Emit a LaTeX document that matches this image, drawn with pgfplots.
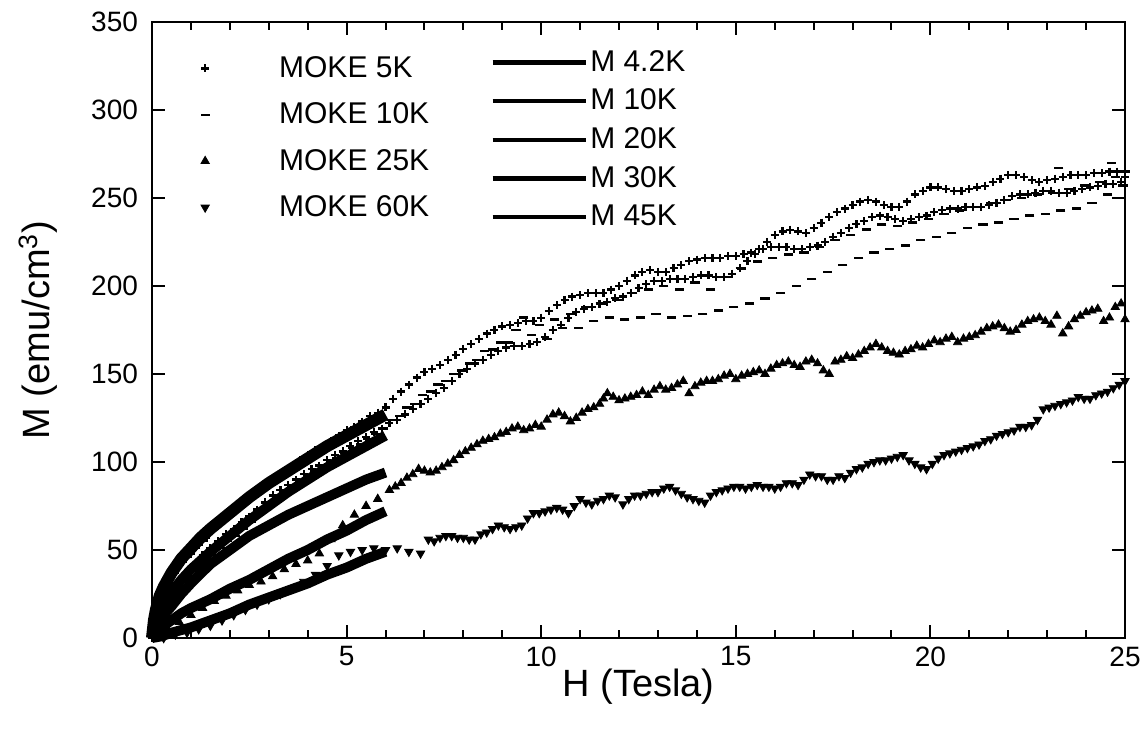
\documentclass[border=0pt]{standalone}
\usepackage{fontspec}
\setmainfont{Liberation Sans}
\usepackage{pgfplots}
\pgfplotsset{compat=1.18}

\begin{document}
\begin{tikzpicture}
\pgfplotsset{
  base/.style={
    scale only axis, width=486.5pt, height=308pt,
    xmin=0, xmax=25, ymin=0, ymax=350,
    clip=false,
  },
}
\begin{axis}[
  base, name=ax,
  axis line style={line width=1.4pt},
  xtick={0,5,...,25}, minor x tick num=4,
  ytick={0,50,...,350},
  xtick pos=both, ytick pos=both,
  xticklabel pos=lower, yticklabel pos=left,
  tick align=inside,
  major tick length=6.5pt, minor tick length=4pt,
  every tick/.style={black, line width=1pt},
  /pgf/number format/assume math mode=true,
  tick label style={font=\fontsize{14}{16}\selectfont},
  yticklabel style={xshift=-3.5pt},
  xticklabel style={yshift=-0.8pt},
  xlabel={H (Tesla)},
  ylabel={M (emu/cm\textsuperscript{3})},
  label style={font=\fontsize{19}{22}\selectfont},
  xlabel style={at={(axis description cs:0.5,-0.0795)}, anchor=center},
  ylabel style={at={(axis description cs:-0.117,0.5)}, anchor=center},
  legend style={at={(axis description cs:0.046,0.948)}, anchor=north west,
    draw=none, fill=none, inner sep=0pt, row sep=9.2pt,
    font=\fontsize{15}{17}\selectfont,
    nodes={inner sep=1pt}},
  legend cell align=left,
  legend image code/.code={\path[draw=none,fill=none] (-4pt,0pt) rectangle (36pt,0pt);
    \draw[#1] plot coordinates {(0pt,0pt)};},
]
% MOKE 5K, upper branch
\addplot[only marks, mark=+, mark size=2pt, line width=1.1pt, black] coordinates {
(0,0) (0.2,20) (0.4,30) (0.6,37) (0.8,43) (1.0,48) (1.2,53) (1.4,57) (1.6,62) (1.8,66)
(2.0,70) (2.2,74) (2.4,78) (2.6,82) (2.8,85) (3.0,89) (3.2,92) (3.4,95) (3.6,98) (3.8,101)
(4.0,104) (4.2,107) (4.4,109) (4.6,112) (4.8,115) (5.0,118) (5.2,120) (5.4,123) (5.6,126) (5.8,128)
(6.0,131) (6.2,136) (6.4,140) (6.6,144) (6.8,148) (7.0,151) (7.2,153) (7.4,155) (7.6,158) (7.8,161)
(8.0,164) (8.2,167) (8.4,170) (8.6,173) (8.8,175) (9.0,177) (9.2,178) (9.4,179) (9.6,180) (9.8,180)
(10.0,182) (10.2,186) (10.4,189) (10.6,192) (10.8,194) (11.0,195) (11.2,196) (11.4,196) (11.6,196) (11.8,198)
(12.0,200) (12.2,203) (12.4,206) (12.6,208) (12.8,209) (13.0,208) (13.2,208) (13.4,210) (13.6,212) (13.8,214)
(14.0,215) (14.2,216) (14.4,216) (14.6,216) (14.8,217) (15.0,217) (15.2,218) (15.4,219) (15.6,221) (15.8,225)
(16.0,229) (16.2,231) (16.4,232) (16.6,231) (16.8,230) (17.0,233) (17.2,236) (17.4,239) (17.6,242) (17.8,244)
(18.0,246) (18.2,248) (18.4,249) (18.6,248) (18.8,246) (19.0,245) (19.2,245) (19.4,248) (19.6,252) (19.8,254)
(20.0,256) (20.2,256) (20.4,255) (20.6,254) (20.8,254) (21.0,255) (21.2,256) (21.4,257) (21.6,259) (21.8,261)
(22.0,263) (22.2,263) (22.4,262) (22.6,260) (22.8,259) (23.0,260) (23.2,261) (23.4,262) (23.6,263) (23.8,263)
(24.0,263) (24.2,264) (24.4,264) (24.6,265) (24.8,265) (25.0,262)
};
% MOKE 5K, lower branch
\addplot[only marks, mark=+, mark size=2pt, line width=1.1pt, black, forget plot] coordinates {
(0.1,6) (0.3,15) (0.5,23) (0.7,30) (0.9,36) (1.1,42) (1.3,47) (1.5,51) (1.7,55) (1.9,59)
(2.1,62) (2.3,66) (2.5,69) (2.7,73) (2.9,77) (3.1,81) (3.3,84) (3.5,87) (3.7,90) (3.9,93)
(4.1,96) (4.3,98) (4.5,101) (4.7,104) (4.9,106) (5.1,109) (5.3,112) (5.5,114) (5.7,117) (5.9,119)
(6.1,122) (6.3,124) (6.5,127) (6.7,130) (6.9,133) (7.1,136) (7.3,139) (7.5,142) (7.7,146) (7.9,150)
(8.1,153) (8.3,156) (8.5,158) (8.7,161) (8.9,163) (9.1,165) (9.3,166) (9.5,166) (9.7,167) (9.9,168)
(10.1,171) (10.3,175) (10.5,178) (10.7,182) (10.9,185) (11.1,187) (11.3,188) (11.5,190) (11.7,191) (11.9,193)
(12.1,194) (12.3,196) (12.5,199) (12.7,201) (12.9,203) (13.1,203) (13.3,204) (13.5,204) (13.7,204) (13.9,205)
(14.1,206) (14.3,206) (14.5,205) (14.7,205) (14.9,207) (15.1,210) (15.3,214) (15.5,218) (15.7,221) (15.9,222)
(16.1,222) (16.3,222) (16.5,221) (16.7,221) (16.9,222) (17.1,223) (17.3,225) (17.5,228) (17.7,230) (17.9,233)
(18.1,235) (18.3,237) (18.5,239) (18.7,240) (18.9,239) (19.1,238) (19.3,237) (19.5,238) (19.7,239) (19.9,240)
(20.1,242) (20.3,243) (20.5,244) (20.7,244) (20.9,245) (21.1,245) (21.3,245) (21.5,246) (21.7,247) (21.9,249)
(22.1,251) (22.3,252) (22.5,252) (22.7,253) (22.9,254) (23.1,254) (23.3,253) (23.5,253) (23.7,254) (23.9,255)
(24.1,256) (24.3,257) (24.5,258) (24.7,258) (24.9,259)
};
% MOKE 10K
\addplot[only marks, mark=-, mark size=2.3pt, line width=1.2pt, black] coordinates {
(0.15,8) (0.35,16) (0.55,22) (0.75,28) (0.95,33) (1.15,38) (1.35,42) (1.55,47) (1.75,51) (1.95,55)
(2.15,58) (2.35,62) (2.55,66) (2.75,70) (2.95,73) (3.15,77) (3.35,80) (3.55,84) (3.75,87) (3.95,90)
(4.15,93) (4.35,96) (4.55,99) (4.75,102) (4.95,105) (5.15,108) (5.35,110) (5.55,113) (5.75,116) (5.95,119)
(6.15,124) (6.35,126) (6.55,131) (6.75,133) (6.95,138) (7.15,140) (7.35,144) (7.55,146) (7.75,150) (7.95,152)
(8.15,156) (8.35,158) (8.55,163) (8.75,164) (8.95,168) (9.15,168) (9.35,175) (9.55,182) (9.75,172) (9.95,178)
(10.15,170) (10.35,181) (10.55,176) (10.75,184) (10.95,176) (11.15,188) (11.35,180) (11.55,190) (11.75,182) (11.95,192)
(12.15,181) (12.35,196) (12.55,182) (12.75,198) (12.95,184) (13.15,200) (13.35,182) (13.55,198) (13.75,183) (13.95,202)
(14.15,184) (14.35,198) (14.55,186) (14.75,205) (14.95,188) (15.15,210) (15.35,190) (15.55,214) (15.75,193) (15.95,216)
(16.15,196) (16.35,218) (16.55,200) (16.75,219) (16.95,204) (17.15,222) (17.35,208) (17.55,226) (17.75,212) (17.95,229)
(18.15,216) (18.35,232) (18.55,219) (18.75,235) (18.95,221) (19.15,234) (19.35,223) (19.55,236) (19.75,226) (19.95,238)
(20.15,228) (20.35,241) (20.55,230) (20.75,243) (20.95,233) (21.15,245) (21.35,235) (21.55,247) (21.75,236) (21.95,249)
(22.15,238) (22.35,250) (22.55,240) (22.75,252) (22.95,241) (23.15,253) (23.35,243) (23.55,255) (23.75,244) (23.95,257)
(24.15,247) (24.35,259) (24.55,252) (24.75,262) (24.95,257) (23.3,267) (24.65,270) (25.0,265)
};
% MOKE 25K
\addplot[only marks, mark=triangle*, mark size=2.4pt, black] coordinates {
(0.1,1) (0.4,5) (0.7,9) (1.0,13) (1.3,17) (1.6,21) (1.9,24) (2.2,27) (2.5,30) (2.8,32)
(3.1,35) (3.4,39) (3.7,42) (4.0,44) (4.3,48) (4.6,56) (4.9,64) (5.2,70) (5.5,75) (5.8,79)
(6.1,84) (6.4,88) (6.7,93) (7.0,95) (7.3,95) (7.6,99) (7.9,104) (8.2,108) (8.5,112) (8.8,114)
(9.1,117) (9.4,120) (9.7,119) (10.0,120) (10.3,127) (10.6,126) (10.9,125) (11.2,130) (11.5,133) (11.7,139)
(12.0,135) (12.3,137) (12.6,140) (12.9,141) (13.2,141) (13.5,144) (13.8,139) (14.1,145) (14.4,146) (14.7,149)
(15.0,147) (15.3,150) (15.6,152) (15.9,153) (16.2,156) (16.5,155) (16.8,157) (17.1,156) (17.4,150) (17.7,158)
(18.0,159) (18.3,163) (18.6,167) (18.9,163) (19.2,161) (19.5,164) (19.8,165) (20.1,169) (20.4,170) (20.7,168)
(21.0,171) (21.3,174) (21.6,177) (21.9,176) (22.2,175) (22.5,180) (22.8,182) (23.1,178) (23.4,173) (23.7,181)
(24.0,185) (24.3,187) (24.6,182) (24.9,190) (25.0,181)
(6.25,86) (6.55,91) (6.85,96) (7.15,94) (7.45,97) (7.75,101) (8.05,106) (8.35,110) (8.65,113) (8.95,116)
(9.25,119) (9.55,118) (9.85,121) (10.15,124) (10.45,128) (10.75,123) (11.05,128) (11.35,131) (11.6,136) (11.85,137)
(12.15,136) (12.45,138) (12.75,138) (13.05,143) (13.35,142) (13.65,146) (13.95,143) (14.25,146) (14.55,147) (14.85,150)
(15.15,149) (15.45,151) (15.75,150) (16.05,155) (16.35,157) (16.65,154) (16.95,158) (17.25,152) (17.55,157) (17.85,160)
(18.15,161) (18.45,165) (18.75,165) (19.05,162) (19.35,163) (19.65,166) (19.95,167) (20.25,168) (20.55,171) (20.85,170)
(21.15,172) (21.45,176) (21.75,178) (22.05,174) (22.35,178) (22.65,181) (22.95,180) (23.25,183) (23.55,177) (23.85,183)
(24.15,186) (24.45,180) (24.75,188)
};
% MOKE 60K
\addplot[only marks, mark=triangle*, mark size=2.4pt, mark options={rotate=180}, black] coordinates {
(0.3,0) (0.6,2) (0.9,3) (1.2,5) (1.5,7) (1.8,10) (2.1,13) (2.4,16) (2.7,19) (3.0,22)
(3.3,25) (3.6,28) (3.9,32) (4.2,36) (4.5,41) (4.8,47) (5.1,49) (5.4,50) (5.7,51) (6.0,50)
(6.3,51) (6.6,49) (6.9,48) (7.1,56) (7.4,57) (7.7,58) (8.0,57) (8.3,56) (8.6,60) (8.9,64)
(9.2,62) (9.5,64) (9.8,71) (10.1,72) (10.4,74) (10.7,71) (11.0,79) (11.3,76) (11.6,79) (11.9,80)
(12.1,76) (12.4,81) (12.7,82) (13.0,83) (13.3,86) (13.6,82) (13.9,79) (14.2,77) (14.5,83) (14.8,85)
(15.1,86) (15.4,86) (15.7,86) (16.0,85) (16.3,88) (16.6,87) (16.9,93) (17.2,92) (17.5,90) (17.8,91)
(18.1,96) (18.4,99) (18.7,101) (19.0,102) (19.3,104) (19.6,99) (19.9,96) (20.2,102) (20.5,105) (20.8,107)
(21.1,109) (21.4,112) (21.7,115) (22.0,117) (22.3,120) (22.6,121) (22.9,130) (23.2,132) (23.5,134) (23.8,137)
(24.1,136) (24.4,139) (24.7,142) (25.0,146)
(7.25,55) (7.55,58) (7.85,57) (8.15,56) (8.45,59) (8.75,62) (9.05,63) (9.35,63) (9.65,68) (9.95,71)
(10.25,73) (10.55,73) (10.85,75) (11.15,77) (11.45,78) (11.75,81) (12.25,79) (12.55,81) (12.85,83) (13.15,85)
(13.45,84) (13.75,80) (14.05,78) (14.35,81) (14.65,84) (14.95,86) (15.25,85) (15.55,87) (15.85,86) (16.15,86)
(16.45,88) (16.75,90) (17.05,92) (17.35,90) (17.65,92) (17.95,94) (18.25,97) (18.55,100) (18.85,101) (19.15,103)
(19.45,101) (19.75,97) (20.05,99) (20.35,104) (20.65,106) (20.95,108) (21.25,110) (21.55,113) (21.85,116) (22.15,118)
(22.45,120) (22.75,124) (23.05,131) (23.35,133) (23.65,135) (23.95,136) (24.25,138) (24.55,140) (24.85,144)
};
\legend{MOKE 5K, MOKE 10K, MOKE 25K, MOKE 60K}
\end{axis}

\begin{axis}[
  base, hide axis,
  legend style={at={(axis description cs:0.347,0.958)}, anchor=north west,
    draw=none, fill=none, inner sep=0pt, row sep=5.4pt,
    font=\fontsize{15}{17}\selectfont,
    nodes={inner sep=1pt}},
  legend cell align=left,
  legend image code/.code={\draw[#1, line width=0.66\pgflinewidth] (0pt,0pt) -- (46.5pt,0pt);},
]
\addplot[black, line width=6pt] coordinates {
(0,0) (0.05,10) (0.1,16) (0.2,24) (0.3,29) (0.5,37) (0.75,45) (1,51) (1.25,57) (1.5,62)
(2,71) (2.5,80) (3,88) (3.5,95) (4,102) (4.5,109) (5,115) (5.5,121) (6,127)
};
\addplot[black, line width=5pt] coordinates {
(0,0) (0.05,6) (0.1,10) (0.2,15) (0.3,19) (0.5,26) (0.75,33) (1,39) (1.5,49) (2,58)
(2.5,67) (3,75) (3.5,83) (4,90) (4.5,97) (5,103) (5.5,109) (6,115)
};
\addplot[black, line width=5pt] coordinates {
(0,0) (0.05,4) (0.1,6) (0.2,10) (0.3,13) (0.5,18) (0.75,25) (1,31) (1.5,42) (2,50)
(2.5,58) (3,64) (3.5,70) (4,75) (4.5,80) (5,85) (5.5,90) (6,94)
};
\addplot[black, line width=5pt] coordinates {
(0,0) (0.1,3) (0.2,5) (0.3,7) (0.5,10) (0.75,14) (1,17) (1.5,22) (2,28) (2.5,33)
(3,39) (3.5,45) (4,50) (4.5,56) (5,61) (5.5,67) (6,72)
};
\addplot[black, line width=5pt] coordinates {
(0,0) (0.25,1) (0.5,3) (1,6) (1.5,10) (2,14) (2.5,19) (3,23) (3.5,27) (4,31)
(4.5,36) (5,40) (5.5,45) (6,49)
};
\legend{M 4.2K, M 10K, M 20K, M 30K, M 45K}
\end{axis}
\pgfresetboundingbox
\path ([shift={(-76pt,-50pt)}]ax.south west) rectangle ([shift={(10.5pt,11pt)}]ax.north east);
\end{tikzpicture}
\end{document}
